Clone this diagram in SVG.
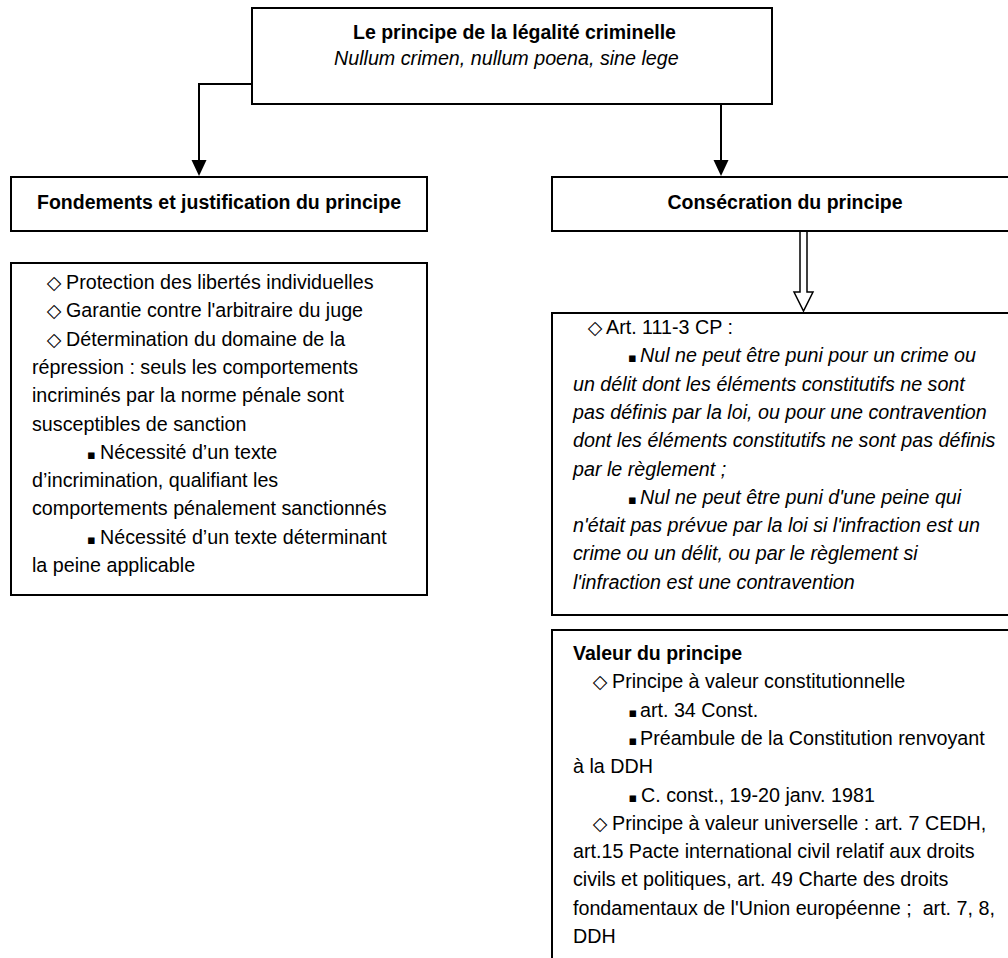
<svg xmlns="http://www.w3.org/2000/svg" width="1008" height="958" viewBox="0 0 1008 958">
<style>
.box{fill:#fff;stroke:#000;stroke-width:2}
text{font-family:"Liberation Sans",Arial,sans-serif;font-size:19.7px;fill:#000;white-space:pre}
.b{font-weight:bold;font-size:19.5px}
.i{font-style:italic}
.m{font-family:"DejaVu Sans",sans-serif;font-size:19px;text-anchor:middle}
.sq{font-family:"DejaVu Sans",sans-serif;font-size:13px;text-anchor:middle}
.ln{stroke:#000;stroke-width:2;fill:none}
</style>
<g id="connectors">
<polyline class="ln" points="252,84 199,84 199,160"/>
<path d="M191.5,160 L206.5,160 L199,176 Z" fill="#000"/>
<line class="ln" x1="721" y1="104" x2="721" y2="160"/>
<path d="M713.5,160 L728.5,160 L721,176 Z" fill="#000"/>
<polygon points="800,231 800,292 794,292 803.5,311 813,292 807,292 807,231" fill="#fff" stroke="#000" stroke-width="1.5"/>
</g>
<g id="node-top">
<rect class="box" x="252" y="8" width="520" height="96"/>
<text class="b" x="353" y="39">Le principe de la légalité criminelle</text>
<text class="i" x="334" y="65">Nullum crimen, nullum poena, sine lege</text>
</g>
<g id="node-fondements">
<rect class="box" x="11" y="177" width="416" height="54"/>
<text class="b" x="219" y="209" text-anchor="middle">Fondements et justification du principe</text>
</g>
<g id="node-consecration">
<rect class="box" x="552" y="177" width="466" height="54"/>
<text class="b" x="785" y="209" text-anchor="middle">Consécration du principe</text>
</g>
<g id="node-justification">
<rect class="box" x="11" y="263" width="416" height="332"/>
<text class="m" x="54" y="289">◇</text><text x="66" y="289">Protection des libertés individuelles</text>
<text class="m" x="54" y="317.3">◇</text><text x="66" y="317.3">Garantie contre l'arbitraire du juge</text>
<text class="m" x="54" y="345.6">◇</text><text x="66" y="345.6">Détermination du domaine de la</text>
<text x="32" y="373.9">répression : seuls les comportements</text>
<text x="32" y="402.2">incriminés par la norme pénale sont</text>
<text x="32" y="430.5">susceptibles de sanction</text>
<text class="sq" x="91.5" y="458.8">▪</text><text x="100" y="458.8">Nécessité d’un texte</text>
<text x="32" y="487.1">d’incrimination, qualifiant les</text>
<text x="32" y="515.4">comportements pénalement sanctionnés</text>
<text class="sq" x="91.5" y="543.7">▪</text><text x="100" y="543.7">Nécessité d’un texte déterminant</text>
<text x="32" y="572">la peine applicable</text>
</g>
<g id="node-art">
<rect class="box" x="552" y="313" width="466" height="302"/>
<text class="m" x="595" y="334">◇</text><text x="606" y="334">Art. 111-3 CP :</text>
<text class="sq" x="632.5" y="362.3">▪</text><text class="i" x="640" y="362.3">Nul ne peut être puni pour un crime ou</text>
<text class="i" x="573" y="390.6">un délit dont les éléments constitutifs ne sont</text>
<text class="i" x="573" y="418.9">pas définis par la loi, ou pour une contravention</text>
<text class="i" x="573" y="447.2">dont les éléments constitutifs ne sont pas définis</text>
<text class="i" x="573" y="475.5">par le règlement ;</text>
<text class="sq" x="632.5" y="503.8">▪</text><text class="i" x="640" y="503.8">Nul ne peut être puni d'une peine qui</text>
<text class="i" x="573" y="532.1">n'était pas prévue par la loi si l'infraction est un</text>
<text class="i" x="573" y="560.4">crime ou un délit, ou par le règlement si</text>
<text class="i" x="573" y="588.7">l'infraction est une contravention</text>
</g>
<g id="node-valeur">
<rect class="box" x="552" y="630" width="466" height="340"/>
<text class="b" x="573" y="660">Valeur du principe</text>
<text class="m" x="600" y="688.3">◇</text><text x="612" y="688.3">Principe à valeur constitutionnelle</text>
<text class="sq" x="633" y="716.6">▪</text><text x="640" y="716.6">art. 34 Const.</text>
<text class="sq" x="633" y="744.9">▪</text><text x="640" y="744.9">Préambule de la Constitution renvoyant</text>
<text x="573" y="773.2">à la DDH</text>
<text class="sq" x="633" y="801.5">▪</text><text x="641" y="801.5">C. const., 19-20 janv. 1981</text>
<text class="m" x="600" y="829.8">◇</text><text x="612" y="829.8">Principe à valeur universelle : art. 7 CEDH,</text>
<text x="573" y="858.1">art.15 Pacte international civil relatif aux droits</text>
<text x="573" y="886.4">civils et politiques, art. 49 Charte des droits</text>
<text x="573" y="914.7">fondamentaux de l'Union européenne ;  art. 7, 8,</text>
<text x="573" y="943">DDH</text>
</g>
</svg>
